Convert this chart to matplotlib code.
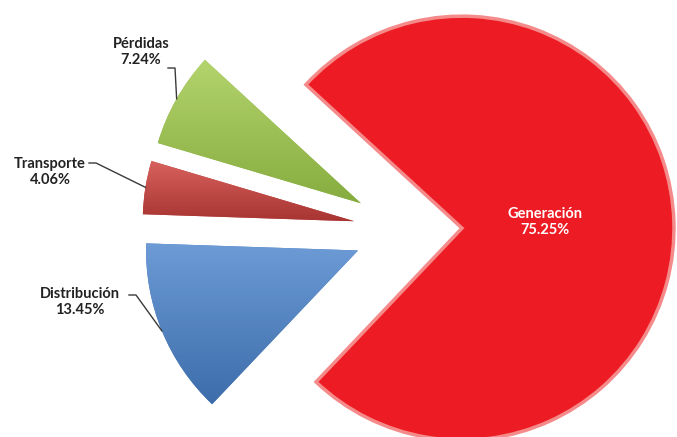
import matplotlib.pyplot as plt
import numpy as np
from matplotlib.colors import LinearSegmentedColormap

labels = ['Generación', 'Pérdidas', 'Transporte', 'Distribución']
values = [75.25, 7.24, 4.06, 13.45]
colors = ['#ED1C24', '#9BBB59', '#C0504D', '#4F81BD']
shades = [None, ('#B4D46E', '#86AC3E'), ('#D8625E', '#A83532'), ('#6C9BD6', '#3D6DAA')]

plt.rcParams['font.family'] = ['Lato', 'DejaVu Sans']

fig = plt.figure(figsize=(6.77, 4.37), dpi=100)
ax = fig.add_axes([0, 0, 1, 1])

# explode is in data units here (radius is 212)
wedges, _ = ax.pie(values, colors=colors, center=(408, 207), radius=212,
                   explode=[54] * 4, startangle=-133.5, counterclock=True,
                   wedgeprops=dict(linewidth=0))
ax.set_aspect('equal')
ax.axis('off')

# soft glow on the big slice
wedges[0].set_edgecolor('#F58A8A')
wedges[0].set_linewidth(2.5)

# vertical gradient shading on the small slices
grad = np.linspace(1, 0, 256).reshape(-1, 1)
for w, sh in zip(wedges, shades):
    if sh is None:
        continue
    cmap = LinearSegmentedColormap.from_list('g', [sh[1], sh[0]])
    bb = w.get_path().get_extents(w.get_transform()).transformed(ax.transData.inverted())
    im = ax.imshow(grad, cmap=cmap, aspect='auto', origin='upper',
                   extent=(bb.x0, bb.x1, bb.y0, bb.y1), zorder=w.get_zorder() + 0.1)
    im.set_clip_path(w)
ax.set_xlim(0, 677)
ax.set_ylim(0, 437)


def arc_point(w):
    a = np.deg2rad((w.theta1 + w.theta2) / 2)
    cx, cy = w.center
    return cx + w.r * np.cos(a), cy + w.r * np.sin(a)


# outer labels: (text position, leader start)
outer = {
    1: ((141, 385), (168, 369)),
    2: ((50, 265), (89, 274)),
    3: ((80, 135), (129, 142)),
}
for i, (tpos, lstart) in outer.items():
    ax.text(tpos[0], tpos[1], f'{labels[i]}\n{values[i]:.2f}%', ha='center', va='center',
            fontsize=10.5, fontweight='bold', color='#222222', linespacing=1.2)
    px, py = arc_point(wedges[i])
    ax.plot([lstart[0], lstart[0] + 7, px], [lstart[1], lstart[1], py],
            color='#3a3a3a', linewidth=1, zorder=5)

ax.text(545, 215, f'{labels[0]}\n{values[0]:.2f}%', ha='center', va='center',
        fontsize=10.5, fontweight='bold', color='white', linespacing=1.2)

fig.savefig('out.png', dpi=100)
